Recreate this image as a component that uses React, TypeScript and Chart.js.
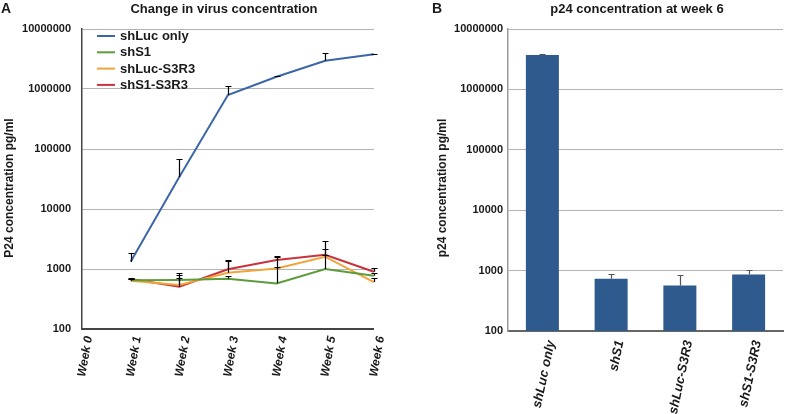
import React, { useEffect, useRef } from "react";
import { Chart, registerables } from "chart.js";
Chart.register(...registerables);

const FONT = "'Liberation Sans', Arial, Helvetica, sans-serif";

// ---- Panel A data ----
const weekLabels = ["Week 0", "Week 1", "Week 2", "Week 3", "Week 4", "Week 5", "Week 6"];
const seriesNames = ["shLuc only", "shS1", "shLuc-S3R3", "shS1-S3R3"];
const shLucOnly = [null, 1320, 34000, 794000, 1600000, 2950000, 3790000];
const shLucOnlyErr = [null, 1850, 67000, 1130000, 1650000, 3960000, 3900000];
const shS1 = [null, 650, 656, 688, 576, 1000, 773];
const shS1Err = [null, 680, 700, 750, 1647, 2150, 850];
const shLucS3R3 = [null, 640, 541, 866, 1023, 1603, 606];
const shLucS3R3Err = [null, 670, 794, 1343, 1100, 1700, 700];
const shS1S3R3 = [null, 680, 507, 989, 1413, 1730, 902];
const shS1S3R3Err = [null, 700, 866, 1430, 1580, 2960, 1050];
const lineColors = ["#3b66a8", "#5c9c3c", "#f2a43a", "#c9313d"];

// ---- Panel B data ----
const groups = ["shLuc only", "shS1", "shLuc-S3R3", "shS1-S3R3"];
const week6 = [3720000, 730, 565, 859];
const week6Err = [3900000, 883, 849, 1028];

const yTicks = [100, 1000, 10000, 100000, 1000000, 10000000];

const errorBarPlugin = {
  id: "errorBars",
  afterDatasetsDraw(chart: any) {
    const ctx = chart.ctx;
    const y = chart.scales.y;
    chart.data.datasets.forEach((ds: any, di: number) => {
      const errs = ds.errorTops;
      if (!errs) return;
      const meta = chart.getDatasetMeta(di);
      ctx.save();
      ctx.strokeStyle = ds.errorColor || "#000";
      ctx.lineWidth = 1.2;
      errs.forEach((e: number | null, i: number) => {
        const v = ds.data[i];
        if (e == null || v == null) return;
        const px = Math.round(meta.data[i].x) + 0.5;
        const y0 = y.getPixelForValue(v);
        const y1 = Math.round(y.getPixelForValue(e)) + 0.5;
        ctx.beginPath();
        ctx.moveTo(px, y0);
        ctx.lineTo(px, y1);
        ctx.moveTo(px - 3, y1);
        ctx.lineTo(px + 3, y1);
        ctx.stroke();
      });
      ctx.restore();
    });
  },
};

type TextItem = { text: string; x: number; y: number; size: number; rotate?: boolean; align?: CanvasTextAlign };

const makeTextPlugin = (items: TextItem[]) => ({
  id: "texts",
  afterDraw(chart: any) {
    const ctx = chart.ctx;
    items.forEach((t) => {
      ctx.save();
      ctx.fillStyle = "#1a1a1a";
      ctx.font = `bold ${t.size}px ${FONT}`;
      ctx.textAlign = t.align || "center";
      ctx.textBaseline = "middle";
      ctx.translate(t.x, t.y);
      if (t.rotate) ctx.rotate(-Math.PI / 2);
      ctx.fillText(t.text, 0, 0);
      ctx.restore();
    });
  },
});

const legendPlugin = {
  id: "innerLegend",
  afterDraw(chart: any) {
    const ctx = chart.ctx;
    const { left, top } = chart.chartArea;
    chart.data.datasets.forEach((ds: any, i: number) => {
      const yy = top + 7 + i * 16.3;
      ctx.save();
      ctx.strokeStyle = ds.borderColor;
      ctx.lineWidth = 2;
      ctx.beginPath();
      ctx.moveTo(left + 15, yy);
      ctx.lineTo(left + 33, yy);
      ctx.stroke();
      ctx.fillStyle = "#1a1a1a";
      ctx.font = `bold 13px ${FONT}`;
      ctx.textAlign = "left";
      ctx.textBaseline = "middle";
      ctx.fillText(ds.label, left + 38, yy + 0.5);
      ctx.restore();
    });
  },
};

const yScale = (width: number, pad: number, borderColor: string) => ({
  type: "logarithmic" as const,
  min: 100,
  max: 10000000,
  afterBuildTicks: (scale: any) => {
    scale.ticks = yTicks.map((v) => ({ value: v }));
  },
  afterFit: (scale: any) => {
    scale.width = width;
  },
  ticks: {
    callback: (v: any) => String(v),
    font: { family: FONT, size: 11, weight: "bold" as const },
    color: "#1a1a1a",
    padding: pad,
  },
  grid: { color: "#b3b3b3", lineWidth: 1, drawTicks: false },
  border: { color: borderColor, width: 1.5 },
});

function LineChartA() {
  const ref = useRef<HTMLCanvasElement>(null);
  useEffect(() => {
    const values = [shLucOnly, shS1, shLucS3R3, shS1S3R3];
    const errs = [shLucOnlyErr, shS1Err, shLucS3R3Err, shS1S3R3Err];
    const chart = new Chart(ref.current!, {
      type: "line",
      data: {
        labels: weekLabels,
        datasets: seriesNames.map((name, i) => ({
          label: name,
          data: values[i],
          borderColor: lineColors[i],
          backgroundColor: lineColors[i],
          borderWidth: 2,
          pointRadius: 0,
          tension: 0,
          errorTops: errs[i],
          errorColor: "#000",
        })) as any,
      },
      options: {
        responsive: false,
        animation: false,
        layout: { padding: { top: 29, right: 12, left: 0, bottom: 0 } },
        plugins: { legend: { display: false }, tooltip: { enabled: false } },
        scales: {
          x: {
            type: "category",
            offset: false,
            afterFit: (scale: any) => {
              scale.height = 85;
            },
            ticks: {
              minRotation: 80,
              maxRotation: 80,
              autoSkip: false,
              padding: 6,
              labelOffset: 7,
              font: { family: FONT, size: 12, weight: "bold", style: "italic" },
              color: "#1a1a1a",
            },
            grid: { display: false, drawTicks: false },
            border: { color: "#444", width: 2 },
          },
          y: yScale(82, 11, "#444") as any,
        },
      },
      plugins: [
        errorBarPlugin,
        legendPlugin,
        makeTextPlugin([
          { text: "A", x: 1, y: 9, size: 14, align: "left" },
          { text: "Change in virus concentration", x: 224, y: 9, size: 13 },
          { text: "P24 concentration pg/ml", x: 10, y: 188, size: 12, rotate: true },
        ]),
      ],
    });
    return () => chart.destroy();
  }, []);
  return <canvas ref={ref} width={394} height={414} />;
}

function BarChartB() {
  const ref = useRef<HTMLCanvasElement>(null);
  useEffect(() => {
    const chart = new Chart(ref.current!, {
      type: "bar",
      data: {
        labels: groups,
        datasets: [
          {
            label: "p24 at week 6",
            data: week6,
            backgroundColor: "#2e5a8e",
            borderColor: "#5a7fae",
            borderWidth: 0,
            barPercentage: 0.8,
            categoryPercentage: 0.6,
            errorTops: week6Err,
            errorColor: "#555",
          } as any,
        ],
      },
      options: {
        responsive: false,
        animation: false,
        layout: { padding: { top: 29, right: 5, left: 0, bottom: 0 } },
        plugins: { legend: { display: false }, tooltip: { enabled: false } },
        scales: {
          x: {
            type: "category",
            afterFit: (scale: any) => {
              scale.height = 83;
            },
            ticks: {
              minRotation: 78,
              maxRotation: 78,
              autoSkip: false,
              padding: 8,
              labelOffset: 9,
              font: { family: FONT, size: 13, weight: "bold", style: "italic" },
              color: "#1a1a1a",
            },
            grid: { display: false, drawTicks: false },
            border: { color: "#666", width: 2 },
          },
          y: yScale(114, 5, "#999") as any,
        },
      },
      plugins: [
        errorBarPlugin,
        makeTextPlugin([
          { text: "B", x: 38, y: 9, size: 14, align: "left" },
          { text: "p24 concentration at week 6", x: 243, y: 9, size: 13 },
          { text: "p24 concentration pg/ml", x: 49, y: 188, size: 12, rotate: true },
        ]),
      ],
    });
    return () => chart.destroy();
  }, []);
  return <canvas ref={ref} width={394} height={414} />;
}

export default function App() {
  return (
    <div style={{ position: "fixed", left: 0, top: 0, width: 788, height: 414, background: "#fff" }}>
      <div style={{ position: "absolute", left: 0, top: 0 }}>
        <LineChartA />
      </div>
      <div style={{ position: "absolute", left: 394, top: 0 }}>
        <BarChartB />
      </div>
    </div>
  );
}
